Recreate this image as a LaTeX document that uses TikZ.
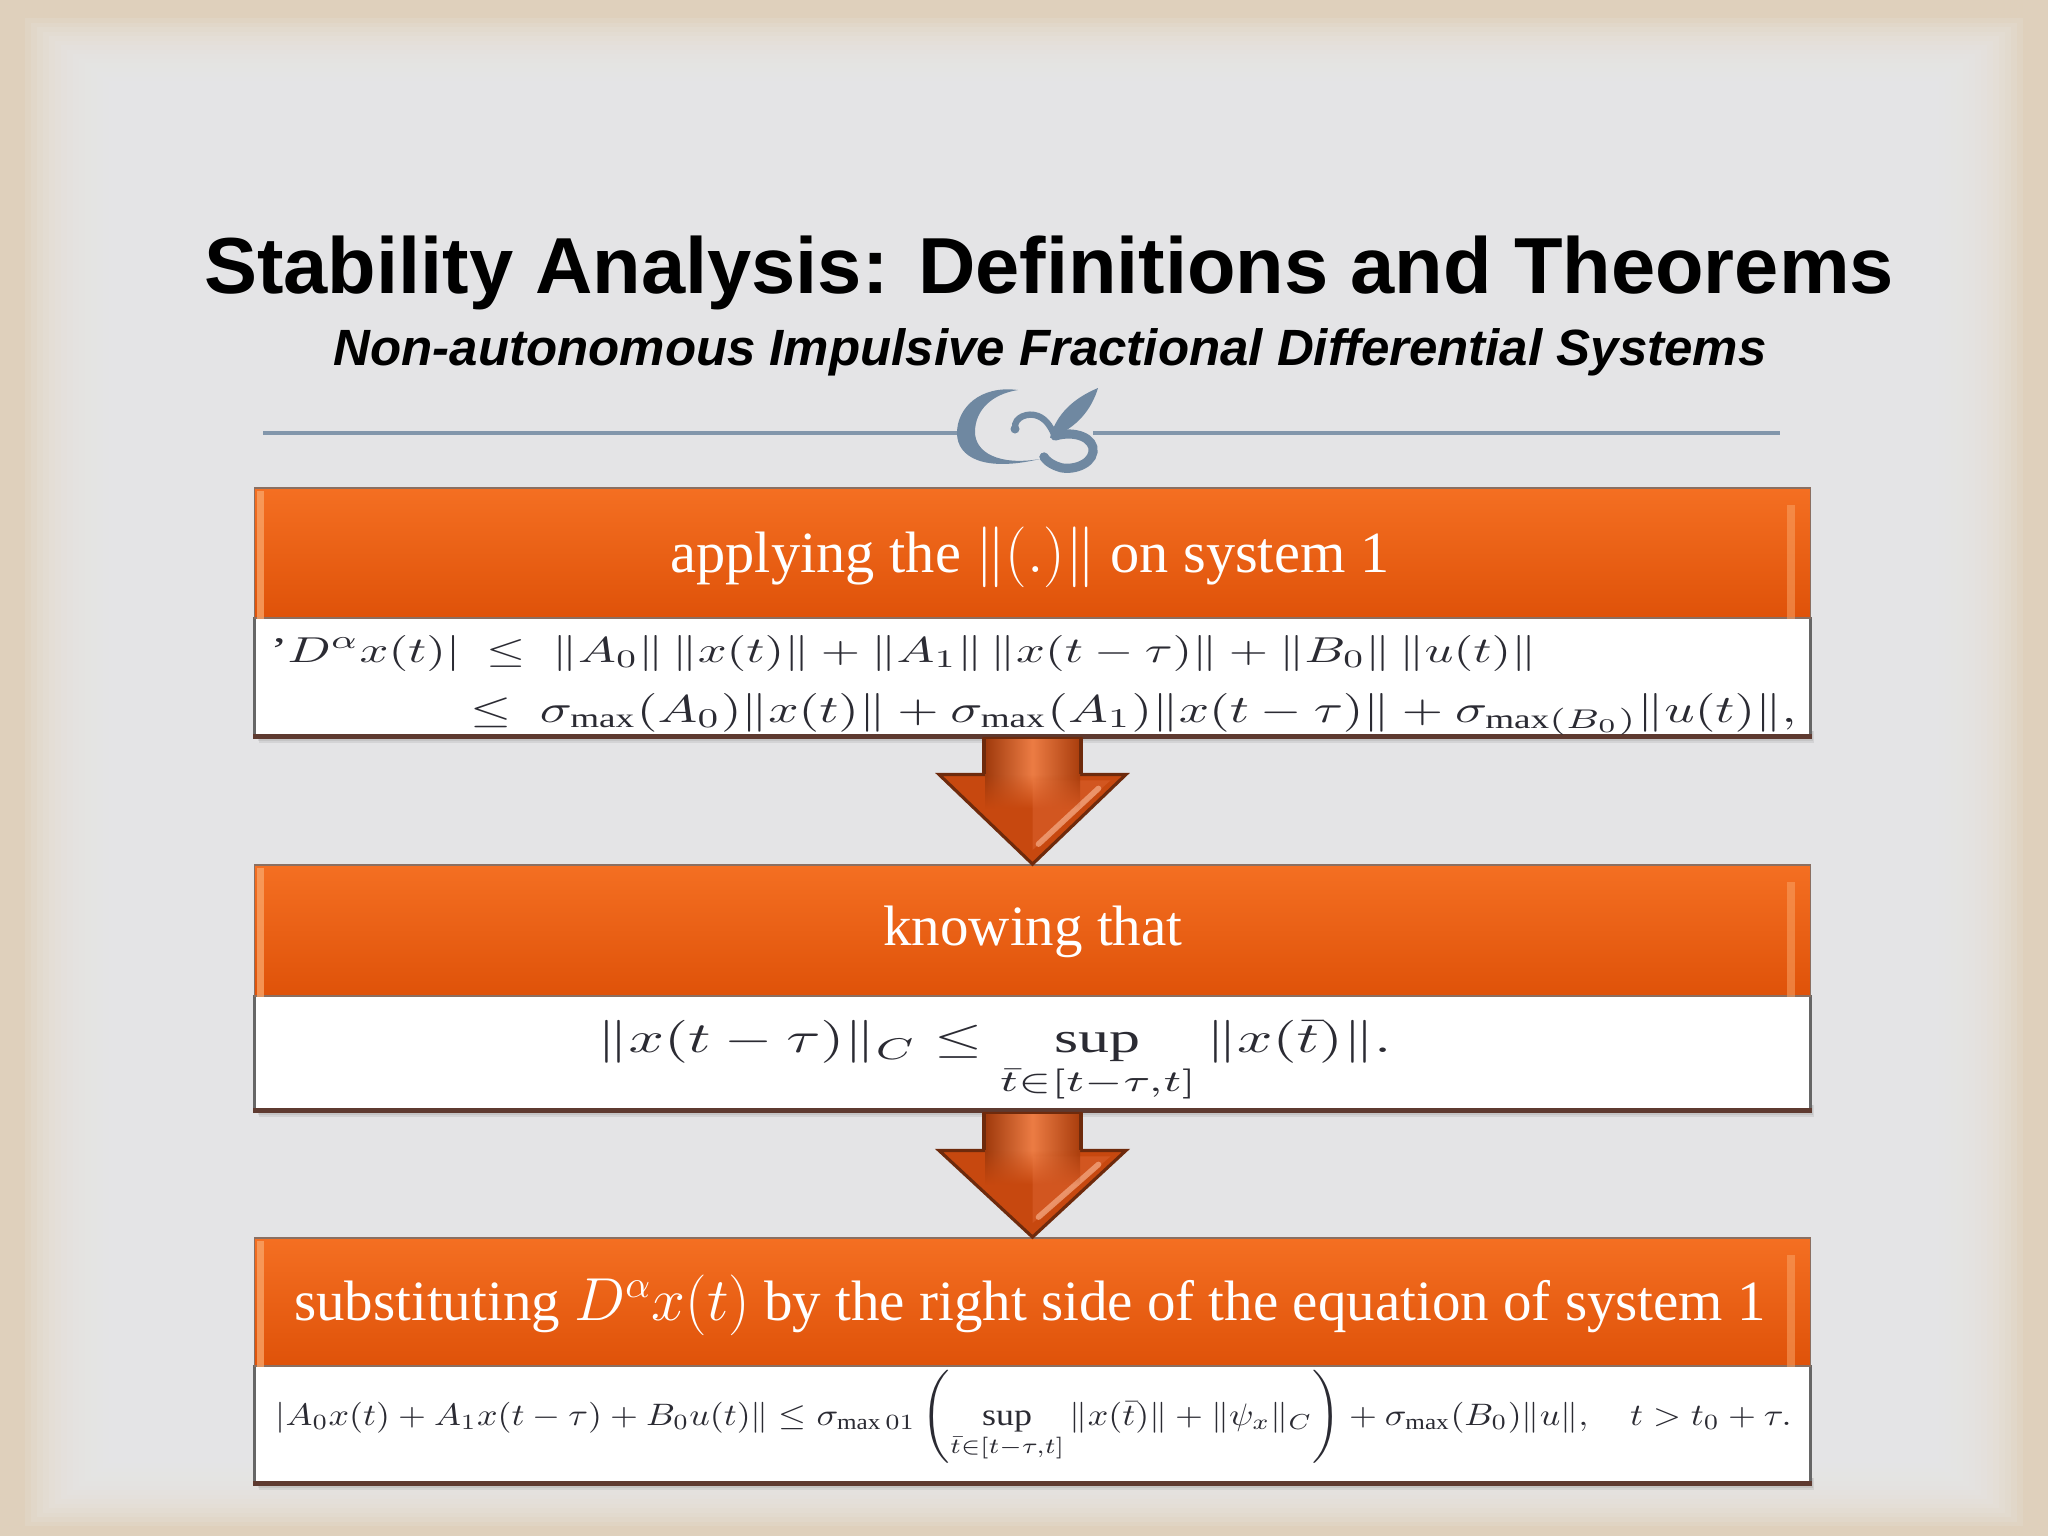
\documentclass[tikz,border=0pt]{standalone}
\usepackage{fontspec}
\usepackage{amsmath}
\usepackage{graphicx}
\setmainfont{Liberation Serif}
\newfontfamily\titlefont{Liberation Sans}
\usetikzlibrary{calc,fadings}
\definecolor{beige}{HTML}{DFD0BC}
\definecolor{panel}{HTML}{E9E9EB}
\definecolor{orgtop}{HTML}{F46F22}
\definecolor{orgbot}{HTML}{DF5209}
\definecolor{orgedge}{HTML}{F9A366}
\definecolor{hdrline}{HTML}{8A6F62}
\definecolor{arrowfill}{HTML}{C7480F}
\definecolor{arrowdark}{HTML}{6E2A0C}
\definecolor{arrowlight}{HTML}{EC7C44}
\definecolor{arrowface}{HTML}{D25620}
\definecolor{ornament}{HTML}{6F88A1}
\definecolor{rulecol}{HTML}{8296AB}
\definecolor{eqcol}{HTML}{2B2B33}
\definecolor{boxline}{HTML}{666666}
\definecolor{boxbottom}{HTML}{5E3A30}
\begin{document}
\begin{tikzpicture}[x=0.01cm,y=-0.01cm,
  hdr/.style={rectangle, inner sep=0, minimum width=15.55cm, top color=orgtop, bottom color=orgbot, draw=hdrline, line width=0.5pt},
  wbox/.style={rectangle, inner sep=0, minimum width=15.55cm, fill=white, draw=boxline, line width=0.8pt},
  hdrtext/.style={anchor=base, inner sep=0, text=white, font=\fontsize{16.2}{20}\selectfont},
  eqs/.style={inner sep=0, text=eqcol},
  shaftshade/.style={left color=arrowfill!80!black, right color=arrowfill!85!black, middle color=arrowlight},
  bigarrow/.style={fill=arrowfill, draw=arrowdark, line width=0.9pt, line join=miter},
  headface/.style={fill=arrowface},
  highlight/.style={draw=arrowlight!70!white, line width=1.6pt, line cap=round, opacity=0.8}
]
\useasboundingbox (0,0) rectangle (2048,1536);
% background
\fill[beige] (0,0) rectangle (2048,1536);
\foreach \i in {0,...,15} {
  \fill[panel,opacity=0.17] (25+6*\i,18+4.5*\i) rectangle (2023-6*\i,1526-4.5*\i);
}
% titles
\node[anchor=base, inner sep=0] (title) at (1049,293) {\titlefont\bfseries\fontsize{22.6}{27}\selectfont Stability Analysis: Definitions and Theorems};
\node[anchor=base, inner sep=0] (subtitle) at (1050,365) {\titlefont\bfseries\itshape\fontsize{14.5}{17}\selectfont Non-autonomous Impulsive Fractional Differential Systems};
% rule and ornament
\draw[rulecol, line width=0.9pt] (263,433) -- (957,433);
\draw[rulecol, line width=0.9pt] (1093,433) -- (1780,433);
\fill[ornament] (1018,390) .. controls (980,385) and (957,408) .. (957,433) .. controls (957,458) and (985,472) .. (1040,459) .. controls (998,466) and (975,452) .. (975,432) .. controls (975,410) and (992,394) .. (1018,390) -- cycle;
\draw[ornament, line width=1.8pt, line cap=round] (1015,428) .. controls (1014,417) and (1028,412) .. (1038,416) .. controls (1048,420) and (1052,430) .. (1055,436);
\draw[ornament, line width=2.6pt, line cap=round] (1055,436) .. controls (1075,430) and (1095,438) .. (1093,452) .. controls (1091,466) and (1068,472) .. (1056,466) .. controls (1049,463) and (1046,460) .. (1044,457);
\fill[ornament] (1015,429) circle (4.5);
\fill[ornament] (1044,457) circle (4.5);
\fill[ornament] (1050,438) .. controls (1056,414) and (1074,398) .. (1098,388) .. controls (1092,408) and (1078,428) .. (1050,438) -- cycle;
% shadows
\foreach \yb in {735,1109,1482} {
  \foreach \k in {1,...,4} {
    \fill[black,opacity=0.07] (255+\k,\yb-4) rectangle (1810+\k,\yb+2*\k);
  }
}
% block 1
\node[wbox, minimum height=1.17cm] (w1) at (1032.5,676.5) {};
\node[hdr, minimum height=1.30cm] (h1) at (1032.5,553) {};
% block 2
\node[wbox, minimum height=1.13cm] (w2) at (1032.5,1052.5) {};
\node[hdr, minimum height=1.31cm] (h2) at (1032.5,930.5) {};
% block 3
\node[wbox, minimum height=1.16cm] (w3) at (1032.5,1424) {};
\node[hdr, minimum height=1.28cm] (h3) at (1032.5,1302) {};
% darker bottom edges of white boxes
\foreach \w in {w1,w2,w3} {
  \draw[boxbottom, line width=1.3pt] (\w.south west) -- (\w.south east);
}
% bevel strips on headers
\foreach \h in {h1,h2,h3} {
  \fill[orgedge, opacity=0.8] ([xshift=0.03cm,yshift=-0.04cm]\h.north west) rectangle ([xshift=0.10cm]\h.south west);
  \fill[orgedge, opacity=0.55] ([xshift=-0.16cm,yshift=-0.18cm]\h.north east) rectangle ([xshift=-0.24cm]\h.south east);
}
% header texts
\node[hdrtext, font=\fontsize{16.6}{20}\selectfont] (t1) at (1030,572) {applying the $\|(.)\|$ on system 1};
\node[hdrtext] (t2) at (1033,945) {knowing that};
\node[hdrtext] (t3) at (1030,1320) {substituting $D^{\alpha}x(t)$ by the right side of the equation of system 1};
% equations
\node[eqs, anchor=base west] (e1a) at (270,662) {\resizebox{12.65cm}{0.27cm}{$\text{'}D^{\alpha}x(t)|\ \le\ \|A_0\|\,\|x(t)\|+\|A_1\|\,\|x(t-\tau)\|+\|B_0\|\,\|u(t)\|$}};
\node[eqs, anchor=base west] (e1b) at (470,722) {\resizebox{13.25cm}{0.29cm}{$\le\ \sigma_{\max}(A_0)\|x(t)\|+\sigma_{\max}(A_1)\|x(t-\tau)\|+\sigma_{\max(B_0)}\|u(t)\|,$}};
\node[eqs, anchor=north west] (e2) at (597,1020) {\resizebox*{7.93cm}{0.83cm}{$\displaystyle \|x(t-\tau)\|_C\le\sup_{\bar t\in[t-\tau,t]}\|x(\bar t)\|.$}};
\node[eqs, anchor=north west] (e3) at (275,1370) {\resizebox*{15.15cm}{0.93cm}{$\displaystyle |A_0x(t)+A_1x(t-\tau)+B_0u(t)\|\le\sigma_{\max 01}\left(\sup_{\bar t\in[t-\tau,t]}\|x(\bar t)\|+\|\psi_x\|_C\right)+\sigma_{\max}(B_0)\|u\|,\quad t>t_0+\tau.$}};
% arrows
\foreach \w/\h/\st/\hb in {w1/h2/2/38, w2/h3/3/40} {
  \path[bigarrow] ($(\w.south)+(-48.5,\st)$) -- ($(\w.south)+(48.5,\st)$) -- ($(\w.south)+(48.5,\hb)$) -- ($(\w.south)+(93.5,\hb)$) -- (\h.north) -- ($(\w.south)+(-93.5,\hb)$) -- ($(\w.south)+(-48.5,\hb)$) -- cycle;
  \path[headface] ($(\w.south)+(0,\hb+6)$) -- ($(\w.south)+(78,\hb+6)$) -- ($(\h.north)+(0,-14)$) -- cycle;
  \draw[highlight] ($(\w.south)+(66,\hb+14)$) -- ($(\h.north)+(6,-20)$);
  \path[shaftshade] ($(\w.south)+(-47.5,\st+1)$) rectangle ($(\w.south)+(47.5,\hb)$);
  \path[shaftshade, path fading=south] ($(\w.south)+(-47.5,\hb)$) rectangle ($(\w.south)+(47.5,\hb+34)$);
  \draw[arrowdark, line width=0.9pt] ($(\w.south)+(-48.5,\st)$) -- ($(\w.south)+(-48.5,\hb)$);
  \draw[arrowdark, line width=0.9pt] ($(\w.south)+(48.5,\st)$) -- ($(\w.south)+(48.5,\hb)$);
}
\end{tikzpicture}
\end{document}
